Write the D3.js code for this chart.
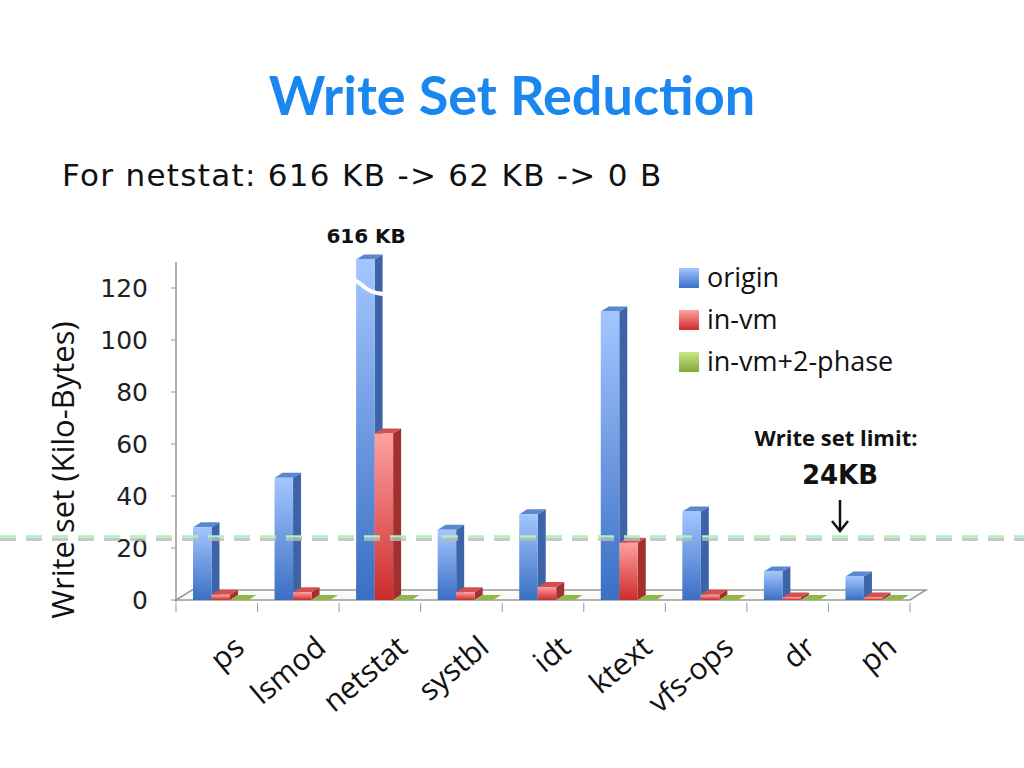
<!DOCTYPE html>
<html><head><meta charset="utf-8">
<script src="https://cdn.jsdelivr.net/npm/d3@7"></script>
<style>body{margin:0;background:#fff}</style></head>
<body><svg id="c" width="1024" height="768"></svg>
<script>
const categories=["ps","lsmod","netstat","systbl","idt","ktext","vfs-ops","dr","ph"];
const origin=[28,47,131,27,33,111,34,11,9];
const inVm=[2,3,64,3,5,22,2,1,1];
const twoPhase=[0,0,0,0,0,0,0,0,0];
const seriesNames=["origin","in-vm","in-vm+2-phase"];
const yTicks=[0,20,40,60,80,100,120];
const limit=24;

const svg=d3.select("#c");
const defs=svg.append("defs");
const cols=[{l:"#a4c6ff",m:"#6a9be8",d:"#3a6fc4",side:"#3d64a8",top:"#5a88d0"},
            {l:"#ffa0a0",m:"#ee6a6a",d:"#cc2c2c",side:"#a33030",top:"#d45050"},
            {l:"#c8e88a",m:"#a4cc5c",d:"#7fa83a",side:"#6a8c30",top:"#8fb848"}];
cols.forEach((c,i)=>{
 const g=defs.append("linearGradient").attr("id","g"+i).attr("x1",0).attr("y1",0).attr("x2",0).attr("y2",1);
 g.append("stop").attr("offset","0%").attr("stop-color",c.l);
 g.append("stop").attr("offset","100%").attr("stop-color",c.d);
});
const x0=176,x1=910;
const x=d3.scaleBand().domain(categories).range([x0,x1]);
const y=d3.scaleLinear().domain([0,120]).range([600,288]);
const dx=8,dy=5;
svg.append("text").attr("x",512).attr("y",115).attr("text-anchor","middle").attr("font-family","Lato, 'Open Sans', sans-serif").attr("font-weight","bold").attr("font-size",54).attr("fill","#1a86f0").text("Write Set Reduction");
svg.append("text").attr("x",62).attr("y",186).attr("font-family","'DejaVu Sans', sans-serif").attr("font-size",31).attr("letter-spacing",1.3).attr("fill","#111").text("For netstat: 616 KB -> 62 KB -> 0 B");
// floor
svg.append("path").attr("d",`M${x0},600 L${x0+16},590 L${x1+16},590 L${x1},600 Z`).attr("fill","#fafafa").attr("stroke","#999").attr("stroke-width",1.5);
svg.append("line").attr("x1",x0).attr("x2",x0).attr("y1",262).attr("y2",602).attr("stroke","#999").attr("stroke-width",1.5);
yTicks.forEach(t=>{
 svg.append("line").attr("x1",x0-5).attr("x2",x0).attr("y1",y(t)).attr("y2",y(t)).attr("stroke","#999");
 svg.append("text").attr("x",148).attr("y",y(t)+9).attr("text-anchor","end").attr("font-family","'DejaVu Sans', sans-serif").attr("font-size",25).attr("fill","#222").text(t);
});
categories.forEach((c,i)=>{
 const xt=x0+i*x.bandwidth();
 svg.append("line").attr("x1",xt).attr("x2",xt).attr("y1",603).attr("y2",612).attr("stroke","#999");
});
svg.append("line").attr("x1",x1).attr("x2",x1).attr("y1",603).attr("y2",612).attr("stroke","#999");
svg.append("text").attr("transform","translate(74,470) rotate(-90)").attr("text-anchor","middle").attr("font-family","'Open Sans', sans-serif").attr("font-size",31).attr("fill","#111").text("Write set (Kilo-Bytes)");
const bw=18.5;
const data=[origin,inVm,twoPhase];
categories.forEach((c,i)=>{
 data.forEach((arr,s)=>{
  const v=arr[i];
  const bx=x(c)+17+s*bw, top=y(v), bot=600;
  const co=cols[s];
  const g=svg.append("g");
  g.append("path").attr("d",`M${bx+bw},${bot} L${bx+bw+dx},${bot-dy} L${bx+bw+dx},${top-dy} L${bx+bw},${top} Z`).attr("fill",co.side);
  g.append("path").attr("d",`M${bx},${top} L${bx+dx},${top-dy} L${bx+bw+dx},${top-dy} L${bx+bw},${top} Z`).attr("fill",co.top);
  if(bot-top>0.5) g.append("rect").attr("x",bx).attr("y",top).attr("width",bw).attr("height",bot-top).attr("fill",`url(#g${s})`);
 });
});
// break marker
const nx=x("netstat")+17;
svg.append("path").attr("d",`M${nx-4},${y(120)-8} C${nx+6},${y(120)-8} ${nx+8},${y(120)+6} ${nx+bw+dx+2},${y(120)+6}`).attr("fill","none").attr("stroke","#fff").attr("stroke-width",4);
svg.append("text").attr("x",nx+10).attr("y",243).attr("text-anchor","middle").attr("font-family","'DejaVu Sans', sans-serif").attr("font-weight","bold").attr("font-size",20).attr("fill","#111").text("616 KB");
// limit line
svg.append("line").attr("x1",0).attr("x2",1024).attr("y1",y(limit)+2).attr("y2",y(limit)+2).attr("stroke","#bbb").attr("stroke-width",3).attr("stroke-dasharray","16,10").attr("opacity",0.8);
svg.append("line").attr("x1",0).attr("x2",1024).attr("y1",y(limit)-1).attr("y2",y(limit)-1).attr("stroke","#aef0c0").attr("stroke-width",2.5).attr("stroke-dasharray","16,10");
// category labels
categories.forEach(c=>{
 const cx=x(c)+x.bandwidth()/2+14;
 svg.append("text").attr("transform",`translate(${cx},632) rotate(-40)`).attr("text-anchor","end").attr("dy","0.8em").attr("font-family","'Open Sans', sans-serif").attr("font-size",30).attr("fill","#111").text(c);
});
// legend
seriesNames.forEach((n,i)=>{
 const ly=268+i*42;
 svg.append("rect").attr("x",679).attr("y",ly).attr("width",20).attr("height",20).attr("fill",`url(#g${i})`);
 svg.append("text").attr("x",707).attr("y",ly+19).attr("font-family","'Open Sans', sans-serif").attr("font-size",27).attr("fill","#111").text(n);
});
svg.append("text").attr("x",836).attr("y",446).attr("text-anchor","middle").attr("font-family","'Open Sans', sans-serif").attr("font-weight","bold").attr("font-size",22).attr("fill","#111").text("Write set limit:");
svg.append("text").attr("x",840).attr("y",484).attr("text-anchor","middle").attr("font-family","'DejaVu Sans', sans-serif").attr("font-weight","bold").attr("font-size",26).attr("fill","#111").text("24KB");
svg.append("line").attr("x1",840).attr("x2",840).attr("y1",500).attr("y2",530).attr("stroke","#111").attr("stroke-width",2.5);
svg.append("path").attr("d","M832,521 L840,531 L848,521").attr("fill","none").attr("stroke","#111").attr("stroke-width",2.5);
</script></body></html>
